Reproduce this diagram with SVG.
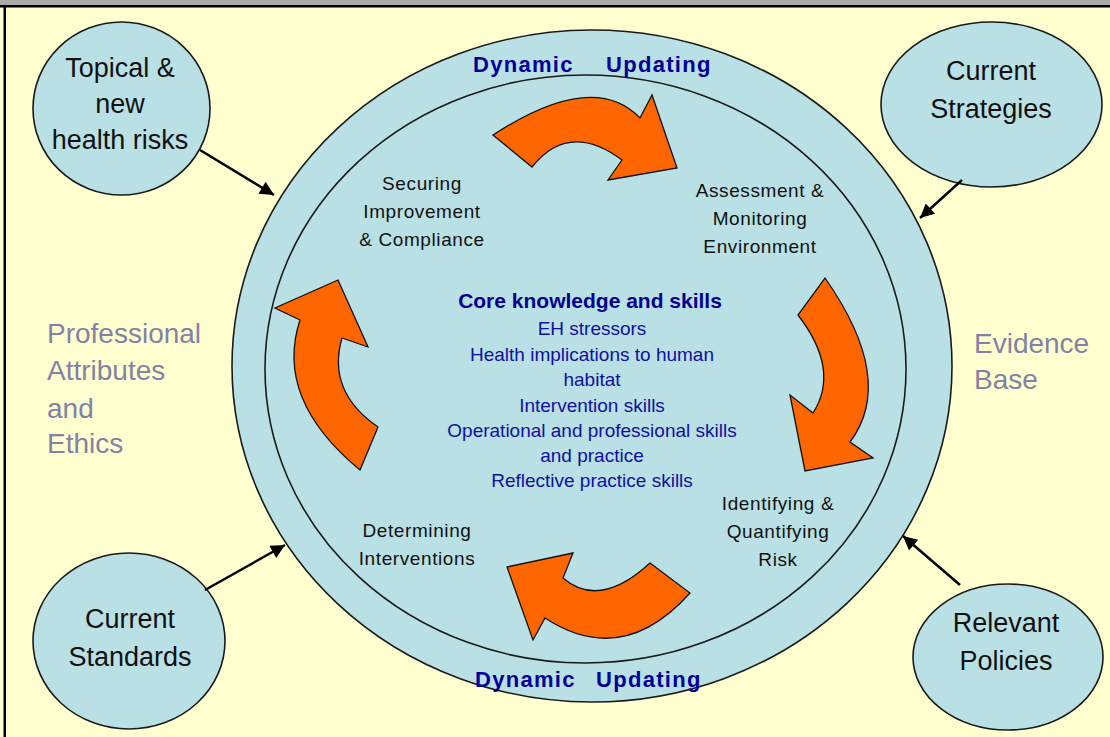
<svg xmlns="http://www.w3.org/2000/svg" width="1110" height="737" viewBox="0 0 1110 737">
<defs>
<style>
.bub{fill:#B9E0E4;stroke:#1a1a1a;stroke-width:1.6}
.ring{fill:#B9E0E4;stroke:#1a1a1a;stroke-width:1.6}
.arw{fill:#FF6600;stroke:#111;stroke-width:1.3;stroke-linejoin:miter}
.nt{font-family:"Liberation Sans",Arial,sans-serif;font-size:27px;fill:#111;text-anchor:middle}
.st{font-family:"Liberation Sans",Arial,sans-serif;font-size:19px;fill:#111;text-anchor:middle;letter-spacing:0.6px}
.ct{font-family:"Liberation Sans",Arial,sans-serif;font-size:19px;fill:#1010A0;text-anchor:middle}
.cth{font-family:"Liberation Sans",Arial,sans-serif;font-size:21px;font-weight:bold;fill:#000090;text-anchor:middle}
.dyn{font-family:"Liberation Sans",Arial,sans-serif;font-size:22px;font-weight:bold;fill:#000099;letter-spacing:1.3px}
.side{font-family:"Liberation Sans",Arial,sans-serif;font-size:28px;fill:#8282A6}
.conn{stroke:#000;stroke-width:2.5;fill:none}
</style>
<marker id="ah" viewBox="0 0 10 10" refX="10" refY="5" markerWidth="16" markerHeight="14" markerUnits="userSpaceOnUse" orient="auto">
<path d="M0,0 L10,5 L0,10 z" fill="#000"/>
</marker>
</defs>
<rect x="0" y="0" width="1110" height="737" fill="#FFFFD0"/>
<rect x="0" y="0" width="1110" height="5" fill="#ABABAB"/>
<rect x="0" y="5" width="1110" height="2.5" fill="#000"/>
<rect x="3.5" y="5" width="2.5" height="732" fill="#000"/>

<g id="cycle">
<ellipse class="ring" cx="592" cy="366" rx="360" ry="336"/>
<ellipse class="ring" cx="585.5" cy="369" rx="320.5" ry="294"/>
</g>

<g id="labels-ring">
<text class="dyn" x="473" y="72">Dynamic</text>
<text class="dyn" x="606" y="72">Updating</text>
<text class="dyn" x="475" y="687">Dynamic</text>
<text class="dyn" x="596" y="687">Updating</text>
</g>

<g id="cycle-arrows">
<path id="arrow-top" class="arw" d="M493,135 Q593.5,69.5 640,118 L652,95 L677,168 L608,180 L622,160 Q569,120.5 532,167 Z"/>
<path id="arrow-right" class="arw" d="M825,278 Q896.5,380 850,442 L873,458 L805,471 L790,395 L813,413 Q840.5,370 798,315 Z"/>
<path id="arrow-bottom" class="arw" d="M650,563 L690,593 Q622.5,668.5 545,618 L533,640 L507,567 L573,553 L563,578 Q599.5,609.5 650,563 Z"/>
<path id="arrow-left" class="arw" d="M360,470 L378,427 Q326.5,391.5 342,338 L368,347 L338,280 L275,308 L300,320 Q274,399 360,470 Z"/>
</g>

<g id="node-securing">
<text class="st" x="422" y="190">Securing</text>
<text class="st" x="422" y="218">Improvement</text>
<text class="st" x="422" y="246">&amp; Compliance</text>
</g>
<g id="node-assessment">
<text class="st" x="760" y="197">Assessment &amp;</text>
<text class="st" x="760" y="225">Monitoring</text>
<text class="st" x="760" y="253">Environment</text>
</g>
<g id="node-identifying">
<text class="st" x="778" y="510">Identifying &amp;</text>
<text class="st" x="778" y="538">Quantifying</text>
<text class="st" x="778" y="566">Risk</text>
</g>
<g id="node-determining">
<text class="st" x="417" y="537">Determining</text>
<text class="st" x="417" y="565">Interventions</text>
</g>

<g id="node-core">
<text class="cth" x="590" y="308">Core knowledge and skills</text>
<text class="ct" x="592" y="335">EH stressors</text>
<text class="ct" x="592" y="361">Health implications to human</text>
<text class="ct" x="592" y="386">habitat</text>
<text class="ct" x="592" y="412">Intervention skills</text>
<text class="ct" x="592" y="437">Operational and professional skills</text>
<text class="ct" x="592" y="462">and practice</text>
<text class="ct" x="592" y="487">Reflective practice skills</text>
</g>

<g id="node-professional">
<text class="side" x="47" y="343">Professional</text>
<text class="side" x="47" y="380">Attributes</text>
<text class="side" x="47" y="418">and</text>
<text class="side" x="47" y="453">Ethics</text>
</g>
<g id="node-evidence">
<text class="side" x="974" y="353">Evidence</text>
<text class="side" x="974" y="389">Base</text>
</g>

<g id="node-topical">
<ellipse class="bub" cx="121.5" cy="108.5" rx="88.5" ry="86.5"/>
<text class="nt" x="120" y="77">Topical &amp;</text>
<text class="nt" x="120" y="113">new</text>
<text class="nt" x="120" y="149">health risks</text>
</g>
<g id="node-strategies">
<ellipse class="bub" cx="991.5" cy="104.5" rx="110.5" ry="82.5"/>
<text class="nt" x="991" y="80">Current</text>
<text class="nt" x="991" y="118">Strategies</text>
</g>
<g id="node-standards">
<ellipse class="bub" cx="129" cy="641" rx="96" ry="88"/>
<text class="nt" x="130" y="628">Current</text>
<text class="nt" x="130" y="666">Standards</text>
</g>
<g id="node-policies">
<ellipse class="bub" cx="1008" cy="657" rx="95" ry="73"/>
<text class="nt" x="1006" y="632">Relevant</text>
<text class="nt" x="1006" y="670">Policies</text>
</g>

<g id="connectors">
<line class="conn" x1="200" y1="150" x2="274" y2="195" marker-end="url(#ah)"/>
<line class="conn" x1="962" y1="180" x2="920" y2="218" marker-end="url(#ah)"/>
<line class="conn" x1="205" y1="590" x2="285" y2="545" marker-end="url(#ah)"/>
<line class="conn" x1="960" y1="585" x2="903" y2="536" marker-end="url(#ah)"/>
</g>
</svg>
